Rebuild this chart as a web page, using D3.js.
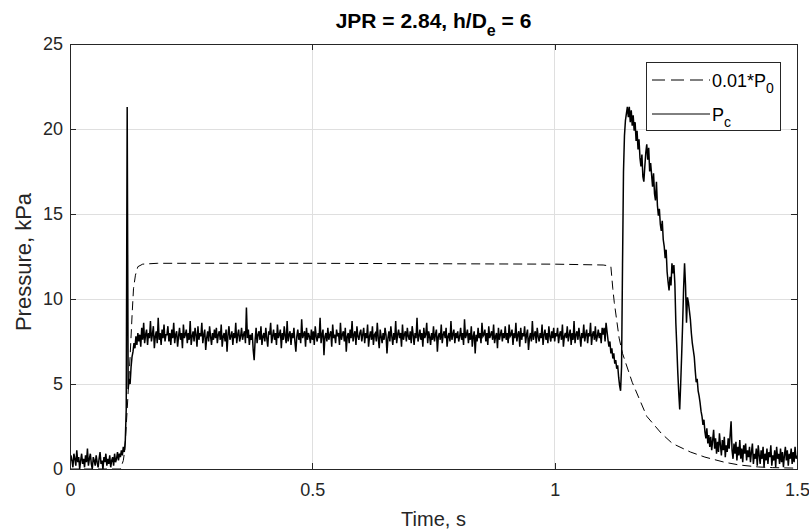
<!DOCTYPE html>
<html>
<head>
<meta charset="utf-8">
<script src="https://cdn.jsdelivr.net/npm/d3@7"></script>
<style>
  body { margin: 0; background: #fff; }
  text { font-family: "Liberation Sans", Arial, sans-serif; }
</style>
</head>
<body>
<div id="chart"></div>
<script>
// Pc samples, one every 2 ms (rows are 0.1 s each)
const pcStep = 0.002;
const pcValues = [
  0.3,0.8,0.5,0.1,0.9,0.6,0.2,1.1,0.4,0.7,0.0,0.5,0.9,0.3,0.6,0.1,0.8,0.4,1.2,0.2,0.6,0.9,0.3,0.0,0.7,0.5,0.2,0.8,0.4,0.1,0.6,1.0,0.3,0.5,0.0,0.7,0.4,0.9,0.2,0.6,0.3,0.8,0.1,0.5,0.7,0.2,0.9,0.4,0.6,1.0,
  0.5,0.9,0.7,1.1,0.8,1.3,1.0,1.6,3.5,21.3,4.7,5.3,5.0,6.0,6.6,6.9,7.4,7.1,7.8,7.3,8.0,7.5,7.9,7.2,8.3,7.6,8.6,7.4,7.9,8.2,7.3,8.0,7.7,8.7,7.5,7.9,8.4,7.1,7.8,8.1,7.4,8.9,7.6,8.0,7.3,8.2,7.7,8.5,7.5,7.9,
  7.9,8.4,7.5,8.0,7.3,8.2,7.7,8.6,7.4,7.9,8.1,7.2,7.8,8.3,7.6,8.0,7.1,8.5,7.7,7.9,8.2,7.4,8.0,7.6,8.7,7.3,7.8,8.1,7.5,8.3,7.9,7.2,8.4,7.6,8.0,7.8,8.6,7.4,7.9,8.2,7.0,7.7,8.1,7.5,8.4,7.8,7.3,8.0,7.6,8.2,
  7.7,8.3,7.4,7.9,8.1,7.6,8.5,7.2,7.8,8.0,7.5,8.2,6.9,7.9,8.4,7.6,7.8,8.1,7.3,8.0,7.7,8.6,7.4,7.9,8.2,7.5,7.8,8.3,7.6,7.9,8.1,7.4,9.5,7.7,8.2,7.3,7.9,7.6,8.0,7.0,6.4,7.6,8.3,7.4,7.9,8.1,7.6,8.4,7.3,7.8,
  8.0,7.5,8.3,7.7,7.2,8.1,7.9,8.6,7.4,7.8,8.2,7.6,8.0,7.3,8.5,7.7,7.9,8.2,7.1,8.0,7.6,8.4,7.8,7.4,8.7,7.5,7.9,8.1,7.3,8.0,7.7,8.3,7.5,6.9,7.8,8.2,7.6,8.0,7.4,8.8,7.7,7.9,8.1,7.2,8.3,7.6,8.0,7.8,7.4,8.2,
  7.6,8.1,7.3,8.4,7.8,7.5,8.0,7.7,8.9,7.4,7.9,8.2,6.7,7.8,8.0,7.5,8.3,7.6,7.9,8.1,7.2,8.5,7.7,7.9,7.4,8.2,7.8,8.0,7.3,8.6,7.6,7.9,8.1,7.5,8.3,6.9,7.8,8.0,7.4,8.2,7.7,8.7,7.5,7.9,8.1,7.3,8.4,7.8,7.6,8.0,
  8.2,7.5,7.9,8.3,7.4,8.0,7.7,8.5,7.2,7.8,8.1,7.6,8.4,7.3,7.9,8.0,7.5,8.6,7.7,7.1,8.2,7.8,7.4,8.0,7.6,8.3,7.9,6.8,7.7,8.1,7.5,8.4,7.8,7.3,8.0,7.6,8.7,7.4,7.9,8.2,7.7,8.0,7.2,8.5,7.6,7.9,8.1,7.5,8.3,7.8,
  7.6,8.1,7.4,8.4,7.9,7.3,8.0,7.7,8.9,7.5,7.8,8.2,7.6,8.0,7.2,8.3,7.7,7.9,8.6,7.4,8.1,7.8,7.3,8.0,7.6,8.4,7.5,7.9,8.2,6.9,7.8,8.0,7.6,8.5,7.4,7.9,8.1,7.7,8.3,7.2,7.8,8.0,7.5,8.7,7.6,7.9,8.2,7.4,8.0,7.7,
  8.1,7.5,7.8,8.3,7.6,8.0,7.3,8.8,7.7,7.9,8.2,7.4,8.0,7.6,8.4,7.2,7.8,8.1,6.8,7.9,7.5,8.3,7.7,8.0,7.4,8.6,7.8,7.9,8.2,7.5,8.0,7.3,8.4,7.7,7.9,8.1,7.6,8.5,7.4,7.8,8.0,7.1,8.3,7.6,7.9,8.2,7.5,8.0,7.7,8.4,
  7.6,8.0,7.4,8.5,7.8,7.9,8.2,7.3,8.0,7.7,8.6,7.5,7.9,8.1,7.2,8.3,7.6,8.0,7.8,8.4,7.4,7.9,8.2,7.0,7.7,8.0,7.5,8.7,7.6,7.9,8.1,7.4,8.3,7.8,7.5,8.0,7.7,8.5,7.3,7.9,8.2,7.6,8.0,7.4,8.4,7.8,7.5,8.1,7.7,8.3,
  7.5,8.0,7.8,8.3,7.4,7.9,8.1,7.6,8.5,7.2,7.8,8.0,7.7,8.4,7.5,7.9,8.2,7.3,8.0,7.6,8.7,7.4,7.9,8.1,7.6,8.3,7.8,7.2,8.0,7.7,8.5,7.5,7.9,8.2,7.4,8.0,7.8,8.6,7.3,7.9,8.1,7.6,8.4,7.5,7.8,8.2,7.7,8.0,7.4,8.3,
  7.9,8.3,7.5,8.6,8.1,7.6,7.2,7.5,6.8,7.1,6.5,6.8,6.2,6.4,5.9,6.1,5.4,4.9,4.6,6.0,12.0,17.5,19.6,20.5,20.9,21.3,20.7,21.3,20.4,21.1,20.2,20.8,19.9,20.4,19.3,19.9,18.8,19.4,18.3,17.8,18.5,17.2,16.9,17.8,18.6,19.1,18.2,18.9,17.5,18.0,
  17.3,16.6,17.4,16.2,15.8,16.9,15.5,14.9,15.3,14.4,14.0,14.6,13.5,13.1,12.4,12.9,11.6,11.0,10.5,11.3,10.8,12.1,11.5,12.0,10.9,8.6,7.2,5.7,4.5,3.5,5.0,6.7,8.5,10.6,12.1,10.8,8.6,10.1,9.8,9.3,8.8,8.0,7.4,7.0,6.6,5.8,5.1,5.3,4.6,4.3,
  3.9,3.4,3.1,2.6,2.9,2.2,1.8,2.4,1.5,2.0,1.3,1.9,1.1,1.7,2.3,1.2,1.8,0.9,1.6,1.0,2.1,1.4,0.8,1.7,1.1,1.9,0.7,1.4,1.0,1.8,1.2,2.0,2.8,1.1,0.6,1.5,0.9,1.6,0.5,1.3,0.8,1.7,0.6,1.2,0.4,1.4,0.9,1.5,0.5,1.1,
  0.7,1.3,0.4,1.0,1.5,0.3,0.9,0.6,1.2,0.2,1.4,0.8,0.3,1.1,0.6,1.3,0.1,0.9,0.5,1.2,0.3,1.0,0.7,1.4,0.2,0.8,0.5,1.1,0.1,1.3,0.6,0.9,0.3,1.2,0.4,1.0,0.1,0.8,1.3,0.5,1.1,0.2,0.9,0.6,1.2,0.3,1.0,0.4,1.3,0.6,
  0.8
];

// 0.01*P0 (dashed)
const p0Time = [0, 0.104, 0.110, 0.113, 0.118, 0.124, 0.128, 0.131, 0.135, 0.140, 0.150, 0.180, 0.5, 1.0, 1.100,
  1.112, 1.116, 1.120, 1.123, 1.133, 1.140, 1.160, 1.190, 1.220, 1.243, 1.280, 1.310, 1.350, 1.380, 1.420, 1.450, 1.5];
const p0Values = [0, 0, 0.5, 1.1, 3.5, 6.6, 9.0, 10.6, 11.4, 11.9, 12.05, 12.1, 12.1, 12.05, 12.0,
  11.95, 11.9, 10.6, 9.8, 7.7, 6.8, 5.1, 3.1, 2.1, 1.5, 1.0, 0.7, 0.4, 0.24, 0.12, 0.08, 0.05];

const xTicks = [0, 0.5, 1, 1.5];
const yTicks = [0, 5, 10, 15, 20, 25];
const legendLabels = ["0.01*P", "P"];
const legendSubs = ["0", "c"];

const width = 809, height = 531;
const margin = {top: 44, right: 12, bottom: 62, left: 70};

const svg = d3.select("#chart")
  .append("svg")
    .attr("width", width)
    .attr("height", height);

const x = d3.scaleLinear().domain([0, 1.5]).range([margin.left, width - margin.right]);
const y = d3.scaleLinear().domain([0, 25]).range([height - margin.bottom, margin.top]);

const x0 = margin.left, x1 = width - margin.right, y0 = height - margin.bottom, y1 = margin.top;

// grid
svg.append("g")
  .selectAll("line")
  .data(xTicks.slice(1, -1))
  .join("line")
    .attr("x1", d => x(d)).attr("x2", d => x(d))
    .attr("y1", y0).attr("y2", y1)
    .attr("stroke", "#dfdfdf").attr("shape-rendering", "crispEdges");
svg.append("g")
  .selectAll("line")
  .data(yTicks.slice(1, -1))
  .join("line")
    .attr("x1", x0).attr("x2", x1)
    .attr("y1", d => y(d)).attr("y2", d => y(d))
    .attr("stroke", "#dfdfdf").attr("shape-rendering", "crispEdges");

// data lines
svg.append("clipPath").attr("id", "clip")
  .append("rect").attr("x", x0).attr("y", y1).attr("width", x1 - x0).attr("height", y0 - y1);

const pcLine = d3.line()
  .x((d, i) => x(i * pcStep))
  .y(d => y(d));
const p0Line = d3.line()
  .x((d, i) => x(p0Time[i]))
  .y(d => y(d));

svg.append("path")
  .datum(p0Values)
  .attr("d", p0Line)
  .attr("fill", "none")
  .attr("stroke", "#000")
  .attr("stroke-width", 1)
  .attr("stroke-dasharray", "9,5")
  .attr("clip-path", "url(#clip)");

svg.append("path")
  .datum(pcValues)
  .attr("d", pcLine)
  .attr("fill", "none")
  .attr("stroke", "#000")
  .attr("stroke-width", 1.5)
  .attr("clip-path", "url(#clip)");

// axes, matlab style: box + inward ticks on all sides
const tickColor = "#262626";
svg.append("g")
  .attr("transform", `translate(0,${y0})`)
  .call(d3.axisBottom(x).tickValues(xTicks).tickFormat(d3.format("")).tickSizeInner(-6).tickSizeOuter(0).tickPadding(14));
svg.append("g")
  .attr("transform", `translate(${x0},0)`)
  .call(d3.axisLeft(y).tickValues(yTicks).tickSizeInner(-6).tickSizeOuter(0).tickPadding(7));
svg.append("g")
  .attr("transform", `translate(0,${y1})`)
  .call(d3.axisTop(x).tickValues(xTicks).tickFormat("").tickSizeInner(-6).tickSizeOuter(0));
svg.append("g")
  .attr("transform", `translate(${x1},0)`)
  .call(d3.axisRight(y).tickValues(yTicks).tickFormat("").tickSizeInner(-6).tickSizeOuter(0));

svg.selectAll(".domain").attr("stroke", tickColor).attr("shape-rendering", "crispEdges");
svg.selectAll(".tick line").attr("stroke", tickColor).attr("shape-rendering", "crispEdges");
svg.selectAll(".tick text").attr("fill", tickColor).style("font-size", "18px")
  .style("font-family", "'Liberation Sans', Arial, sans-serif");

// title
const title = svg.append("text")
  .attr("x", (x0 + x1) / 2)
  .attr("y", 28)
  .attr("text-anchor", "middle")
  .style("font-size", "21px")
  .style("font-weight", "bold")
  .attr("fill", "#000");
title.append("tspan").text("JPR = 2.84, h/D");
title.append("tspan").text("e").attr("dy", 8).style("font-size", "16px");
title.append("tspan").text(" = 6").attr("dy", -8);

// axis labels
svg.append("text")
  .attr("x", (x0 + x1) / 2)
  .attr("y", 526)
  .attr("text-anchor", "middle")
  .attr("fill", tickColor)
  .style("font-size", "20px")
  .text("Time, s");
svg.append("text")
  .attr("transform", `translate(31,262) rotate(-90)`)
  .attr("text-anchor", "middle")
  .attr("fill", tickColor)
  .style("font-size", "22px")
  .text("Pressure, kPa");

// legend
const lg = svg.append("g").attr("transform", "translate(646,62)");
lg.append("rect")
  .attr("width", 134).attr("height", 68)
  .attr("fill", "#fff").attr("stroke", tickColor).attr("shape-rendering", "crispEdges");
legendLabels.forEach((lab, i) => {
  const ly = 18 + i * 34;
  lg.append("line")
    .attr("x1", 6).attr("x2", 64).attr("y1", ly).attr("y2", ly)
    .attr("stroke", "#000")
    .attr("stroke-dasharray", i == 0 ? "13,6" : null);
  const t = lg.append("text")
    .attr("x", 66).attr("y", ly + 7)
    .attr("fill", "#000")
    .style("font-size", "18px");
  t.append("tspan").text(lab);
  t.append("tspan").text(legendSubs[i]).attr("dy", 6).style("font-size", "14px");
});
</script>
</body>
</html>
